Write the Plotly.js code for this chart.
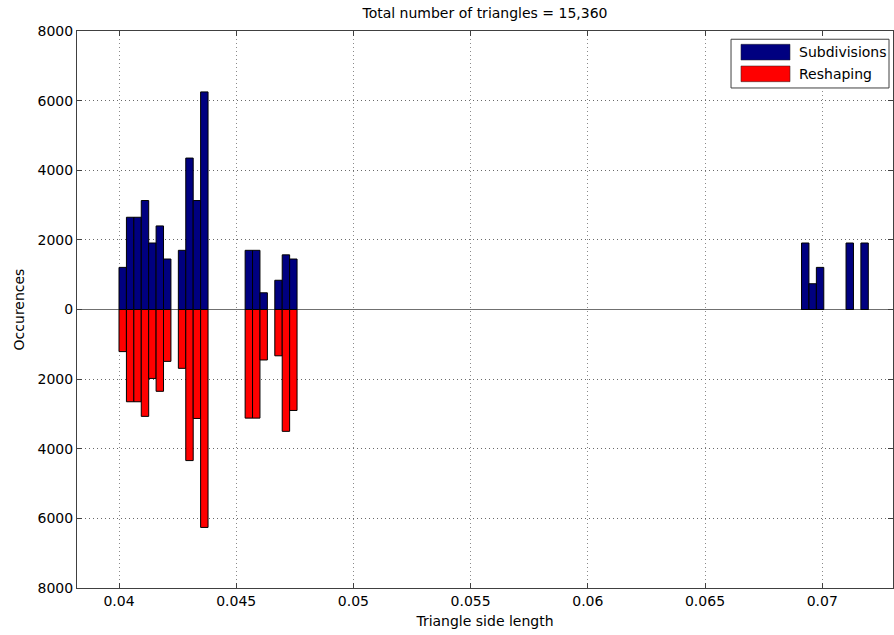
<!DOCTYPE html>
<html>
<head>
<meta charset="utf-8">
<script src="https://cdn.plot.ly/plotly-3.0.1.min.js"></script>
<style>html,body{margin:0;padding:0;background:#fff;}#chart{width:894px;height:635px;}</style>
</head>
<body>
<div id="chart"></div>
<script>
// Histogram bin centres (triangle side length)
const binCenters = [0.040158, 0.040475, 0.040791, 0.041108, 0.041424, 0.041741, 0.042057,
  0.042690, 0.043007, 0.043323, 0.043640,
  0.045539, 0.045855, 0.046172, 0.046805, 0.047121, 0.047438,
  0.069276, 0.069593, 0.069909, 0.071175, 0.071808];
const binWidth = 0.0003165;
// Occurrences per bin
const subdivisions = [1210, 2650, 2650, 3130, 1910, 2400, 1450,
  1700, 4350, 3130, 6250,
  1700, 1700, 480, 840, 1570, 1450,
  1910, 740, 1210, 1910, 1910];
const reshaping = [1210, 2650, 2650, 3070, 1980, 2350, 1490,
  1690, 4340, 3130, 6260,
  3120, 3120, 1450, 1330, 3500, 2900,
  0, 0, 0, 0, 0];
const seriesNames = ['Subdivisions', 'Reshaping'];
const seriesColors = ['#000080', '#ff0000'];
const xTickVals = [0.04, 0.045, 0.05, 0.055, 0.06, 0.065, 0.07];
const xTickText = ['0.04', '0.045', '0.05', '0.055', '0.06', '0.065', '0.07'];
const yTickVals = [-8000, -6000, -4000, -2000, 0, 2000, 4000, 6000, 8000];
const yTickText = ['8000', '6000', '4000', '2000', '0', '2000', '4000', '6000', '8000'];
const titleText = 'Total number of triangles = 15,360';

const FONT = 'DejaVu Sans, Arial, sans-serif';

const traces = [
  {
    type: 'bar', name: seriesNames[0], x: binCenters, y: subdivisions,
    width: binWidth, marker: {color: seriesColors[0], line: {color: '#000', width: 1}},
    showlegend: false
  },
  {
    type: 'bar', name: seriesNames[1], x: binCenters, y: reshaping.map(v => -v),
    width: binWidth, marker: {color: seriesColors[1], line: {color: '#000', width: 1}},
    showlegend: false
  }
];

// legend box drawn in paper coordinates
const shapes = [
  {type: 'rect', xref: 'paper', yref: 'paper', x0: 0.8015, x1: 0.9951, y0: 0.8977, y1: 0.9852,
   fillcolor: '#fff', line: {color: '#404040', width: 1}, layer: 'above'},
  {type: 'rect', xref: 'paper', yref: 'paper', x0: 0.8137, x1: 0.8738, y0: 0.9479, y1: 0.9761,
   fillcolor: seriesColors[0], line: {color: '#222', width: 0.5}, layer: 'above'},
  {type: 'rect', xref: 'paper', yref: 'paper', x0: 0.8137, x1: 0.8738, y0: 0.9090, y1: 0.9372,
   fillcolor: seriesColors[1], line: {color: '#222', width: 0.5}, layer: 'above'}
];
const annotations = [
  {xref: 'paper', yref: 'paper', x: 0.8824, y: 0.9623, xanchor: 'left', yanchor: 'middle',
   text: seriesNames[0], showarrow: false, font: {family: FONT, size: 14, color: '#000'}},
  {xref: 'paper', yref: 'paper', x: 0.8824, y: 0.9228, xanchor: 'left', yanchor: 'middle',
   text: seriesNames[1], showarrow: false, font: {family: FONT, size: 14, color: '#000'}}
];

const layout = {
  width: 894, height: 635,
  margin: {l: 77, r: 1, t: 31, b: 47, pad: 0},
  paper_bgcolor: '#fff', plot_bgcolor: '#fff',
  font: {family: FONT, size: 14, color: '#000'},
  barmode: 'overlay', bargap: 0,
  title: {text: titleText, font: {family: FONT, size: 14, color: '#000'},
          xref: 'paper', x: 0.5, xanchor: 'center', yref: 'container', y: 0.979, yanchor: 'middle'},
  xaxis: {
    range: [0.038208, 0.07302], tickvals: xTickVals, ticktext: xTickText,
    ticks: 'inside', ticklen: 5, tickcolor: '#404040',
    showline: true, linecolor: '#404040', linewidth: 1, mirror: 'ticks',
    showgrid: true, gridcolor: '#8a8a8a', griddash: '1px,3px', gridwidth: 1,
    zeroline: false,
    title: {text: 'Triangle side length', font: {family: FONT, size: 14}, standoff: 8},
    tickfont: {family: FONT, size: 14}
  },
  yaxis: {
    range: [-8000, 8000], tickvals: yTickVals, ticktext: yTickText,
    ticks: 'inside', ticklen: 5, tickcolor: '#404040',
    showline: true, linecolor: '#404040', linewidth: 1, mirror: 'ticks',
    showgrid: true, gridcolor: '#6a6a6a', griddash: '1px,3px', gridwidth: 1,
    zeroline: true, zerolinecolor: '#707070', zerolinewidth: 1.5,
    title: {text: 'Occurences', font: {family: FONT, size: 14}, standoff: 9},
    tickfont: {family: FONT, size: 14}
  },
  shapes: shapes,
  annotations: annotations
};

Plotly.newPlot('chart', traces, layout, {displayModeBar: false, staticPlot: true});
</script>
</body>
</html>
